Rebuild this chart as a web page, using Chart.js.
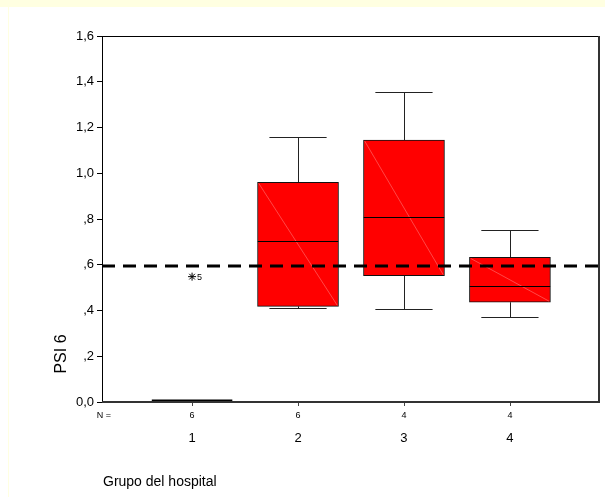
<!DOCTYPE html>
<html>
<head>
<meta charset="utf-8">
<script src="https://cdn.jsdelivr.net/npm/chart.js@4"></script>
<style>
  html, body { margin: 0; padding: 0; background: #fff; }
  #wrap { position: relative; width: 605px; height: 497px; }
  #topband { position: absolute; left: 0; top: 0; width: 605px; height: 7px; background: #ffffe1; }
  #leftline { position: absolute; left: 8px; top: 7px; width: 1px; height: 490px; background: #ffffe1; }
  canvas { position: absolute; left: 0; top: 0; }
</style>
</head>
<body>
<div id="wrap">
  <div id="topband"></div>
  <div id="leftline"></div>
  <canvas id="chart" width="605" height="497"></canvas>
</div>
<script>
// --- data (SPSS boxplot) ---
const groups   = [1, 2, 3, 4];
const counts   = [6, 6, 4, 4];
const whiskLo  = [0,    0.41,  0.405, 0.372];
const q1       = [0,    0.418, 0.552, 0.436];
const median   = [0,    0.705, 0.81,  0.505];
const q3       = [0,    0.96,  1.145, 0.632];
const whiskHi  = [0,    1.16,  1.355, 0.75];
const outliers = [{ x: 1, y: 0.548, label: '5' }];
const refLine  = 0.595;
const yTicks   = [0, 0.2, 0.4, 0.6, 0.8, 1.0, 1.2, 1.4, 1.6];

const FONT = 'Liberation Sans, Arial, sans-serif';

function fmtTick(v) {
  let s = v.toFixed(1).replace('.', ',');
  if (v > 0 && v < 1) s = s.replace(/^0/, '');
  return s;
}

// whiskers behind the boxes, medians + the faint diagonal on top,
// x axis text (N row, group labels) drawn from the x scale
const boxExtras = {
  id: 'boxExtras',
  beforeDatasetsDraw(chart) {
    const { ctx, scales: { x, y } } = chart;
    ctx.save();
    ctx.strokeStyle = '#222';
    ctx.lineWidth = 1;
    groups.forEach((g, i) => {
      if (q3[i] === q1[i]) return;
      const cx = Math.round(x.getPixelForValue(g)) + 0.5;
      const capL = x.getPixelForValue(g - 0.27), capR = x.getPixelForValue(g + 0.27);
      const yHi = Math.round(y.getPixelForValue(whiskHi[i])) + 0.5;
      const yLo = Math.round(y.getPixelForValue(whiskLo[i])) + 0.5;
      ctx.beginPath();
      ctx.moveTo(cx, y.getPixelForValue(q3[i])); ctx.lineTo(cx, yHi);
      ctx.moveTo(capL, yHi); ctx.lineTo(capR, yHi);
      ctx.moveTo(cx, y.getPixelForValue(q1[i])); ctx.lineTo(cx, yLo);
      ctx.moveTo(capL, yLo); ctx.lineTo(capR, yLo);
      ctx.stroke();
    });
    ctx.restore();
  },
  afterDatasetDraw(chart, args) {
    if (args.index !== 0) return;
    const { ctx, scales: { x, y } } = chart;
    ctx.save();
    groups.forEach((g, i) => {
      const l = x.getPixelForValue(g - 0.38), r = x.getPixelForValue(g + 0.38);
      if (q3[i] === q1[i]) {
        // collapsed box: just a thick line
        ctx.strokeStyle = '#000';
        ctx.lineWidth = 3;
        const ym = y.getPixelForValue(median[i]) - 1;
        ctx.beginPath(); ctx.moveTo(l, ym); ctx.lineTo(r, ym); ctx.stroke();
        return;
      }
      const top = y.getPixelForValue(q3[i]), bot = y.getPixelForValue(q1[i]);
      ctx.strokeStyle = 'rgba(255,150,150,0.8)';
      ctx.lineWidth = 0.6;
      ctx.beginPath(); ctx.moveTo(l + 1, top + 1); ctx.lineTo(r - 1, bot - 1); ctx.stroke();
      ctx.strokeStyle = '#000';
      ctx.lineWidth = 1;
      const ym = Math.round(y.getPixelForValue(median[i])) + 0.5;
      ctx.beginPath(); ctx.moveTo(l, ym); ctx.lineTo(r, ym); ctx.stroke();
    });
    ctx.restore();
  },
  afterDraw(chart) {
    const { ctx, chartArea: a, scales: { x, y } } = chart;
    ctx.save();
    // clear the strip just under the axis, then draw only our own tick marks
    ctx.fillStyle = '#fff';
    ctx.fillRect(a.left - 1, a.bottom + 2, 605 - a.left + 1, 8);
    // frame
    ctx.strokeStyle = '#000';
    ctx.lineWidth = 1;
    ctx.strokeRect(a.left + 0.5, a.top + 0.5, a.right - a.left - 1, a.bottom - a.top);
    ctx.lineWidth = 2;
    ctx.strokeStyle = '#333';
    ctx.beginPath();
    ctx.moveTo(a.right - 1, a.top); ctx.lineTo(a.right - 1, a.bottom + 1);
    ctx.moveTo(a.left, a.bottom); ctx.lineTo(a.right, a.bottom);
    ctx.stroke();
    // x tick marks under each group
    ctx.lineWidth = 1;
    ctx.strokeStyle = '#444';
    ctx.beginPath();
    groups.forEach(g => {
      const px = Math.round(x.getPixelForValue(g)) + 0.5;
      ctx.moveTo(px, a.bottom + 1); ctx.lineTo(px, a.bottom + 4);
    });
    ctx.stroke();
    // outlier labels
    ctx.fillStyle = '#000';
    ctx.font = '9px ' + FONT;
    ctx.textBaseline = 'middle';
    ctx.textAlign = 'left';
    outliers.forEach(o => ctx.fillText(o.label, x.getPixelForValue(o.x) + 5, y.getPixelForValue(o.y) + 1));
    // N = row
    ctx.textAlign = 'center';
    ctx.fillText('N =', 104, a.bottom + 14);
    groups.forEach((g, i) => ctx.fillText(String(counts[i]), x.getPixelForValue(g), a.bottom + 14));
    // group labels
    ctx.font = '13px ' + FONT;
    groups.forEach(g => ctx.fillText(String(g), x.getPixelForValue(g), a.bottom + 36));
    // axis titles
    ctx.font = '14px ' + FONT;
    ctx.textAlign = 'left';
    ctx.fillText('Grupo del hospital', 103, 482);
    ctx.font = '16px ' + FONT;
    ctx.translate(62, 354);
    ctx.rotate(-Math.PI / 2);
    ctx.textAlign = 'center';
    ctx.fillText('PSI 6', 0, 0);
    ctx.restore();
  }
};

new Chart(document.getElementById('chart'), {
  type: 'scatter',
  data: {
    datasets: [
      {
        type: 'bar',
        order: 3,
        data: groups.map((g, i) => ({ x: g, y: [q1[i], q3[i]] })),
        backgroundColor: '#ff0000',
        borderColor: '#111',
        borderWidth: 1,
        borderSkipped: false,
        barThickness: 81
      },
      {
        type: 'scatter',
        order: 2,
        data: outliers.map(o => ({ x: o.x, y: o.y })),
        pointStyle: 'star',
        radius: 4,
        borderColor: '#000',
        borderWidth: 1,
        backgroundColor: '#000'
      },
      {
        type: 'line',
        order: 1,
        data: [{ x: 0.15, y: refLine }, { x: 4.85, y: refLine }],
        borderColor: '#000',
        borderWidth: 3,
        borderDash: [13, 8],
        pointRadius: 0,
        fill: false
      }
    ]
  },
  options: {
    responsive: false,
    animation: false,
    events: [],
    layout: { padding: { top: 36, right: 2, bottom: 95, left: 0 } },
    plugins: { legend: { display: false }, tooltip: { enabled: false } },
    scales: {
      x: {
        type: 'linear',
        display: false,
        offset: false,
        grid: { offset: false },
        min: 0.15,
        max: 4.85
      },
      y: {
        min: 0,
        max: 1.6,
        afterBuildTicks: s => { s.ticks = yTicks.map(v => ({ value: v })); },
        afterFit: s => { s.width = 102; },
        grid: { drawOnChartArea: false, drawTicks: true, tickLength: 5, color: '#000' },
        border: { display: false },
        ticks: {
          color: '#000',
          font: { family: FONT, size: 13 },
          padding: 3,
          callback: v => fmtTick(v)
        }
      }
    }
  },
  plugins: [boxExtras]
});
</script>
</body>
</html>
